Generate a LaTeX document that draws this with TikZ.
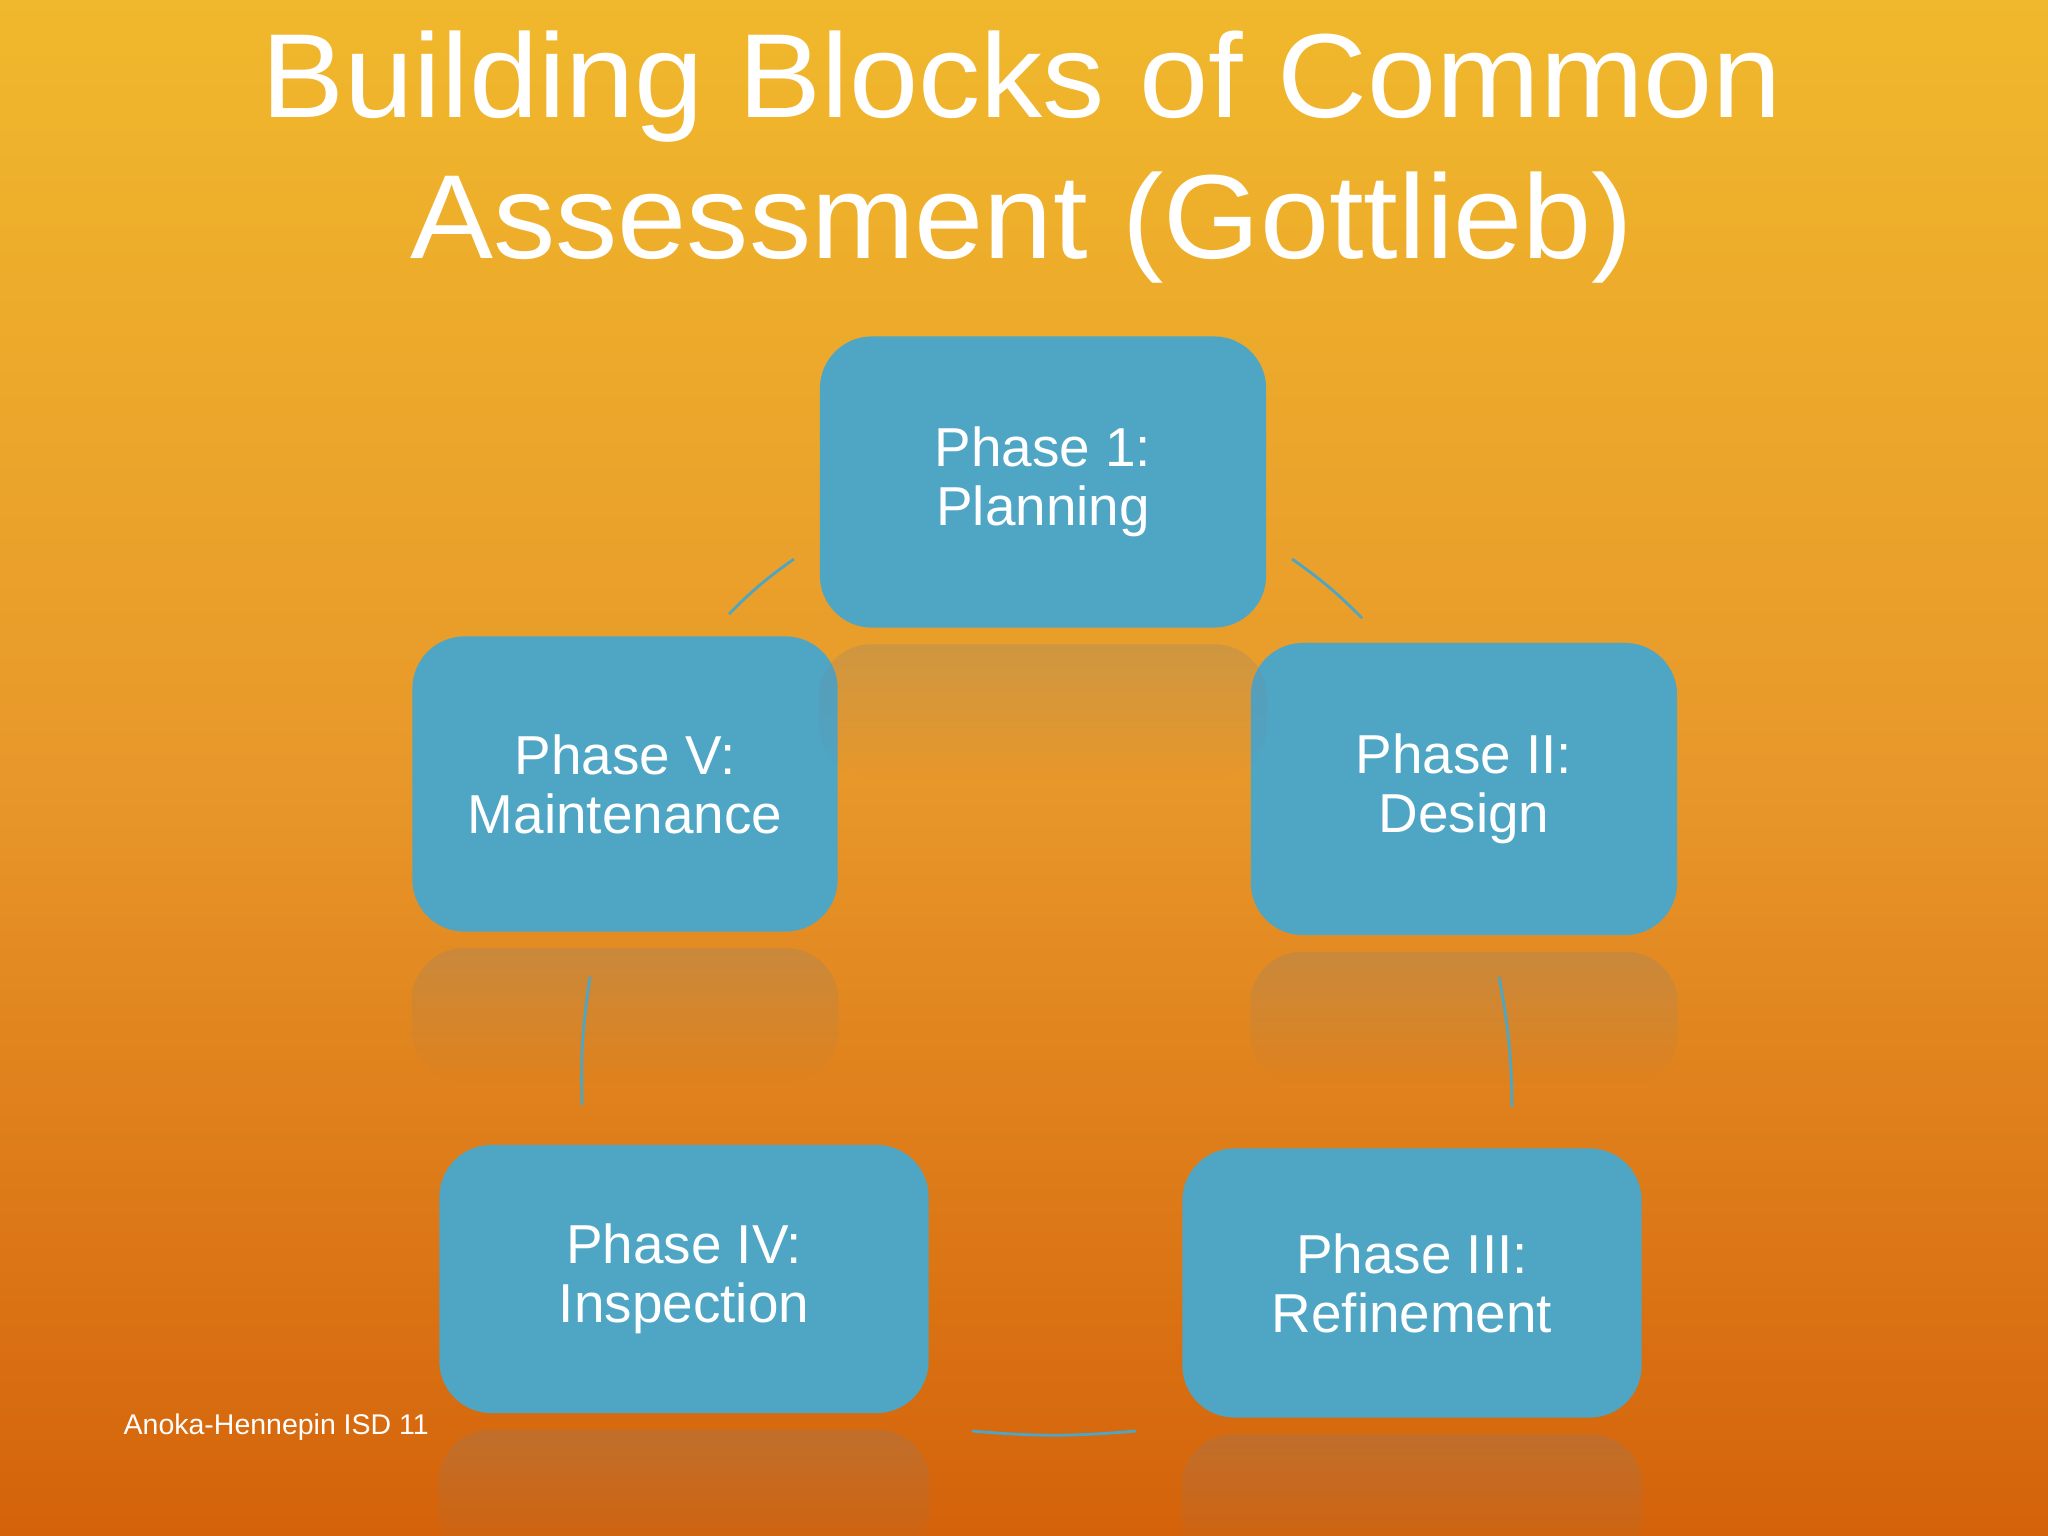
\documentclass[tikz,border=0pt]{standalone}
\usepackage{fontspec}
\setmainfont{Liberation Sans}
\newfontfamily\titlefont[FakeStretch=1.04]{Liberation Sans}
\usepackage{xcolor}
\usetikzlibrary{calc, fadings}

\definecolor{bgtop}{RGB}{240,184,44}
\definecolor{bgmid}{RGB}{232,152,42}
\definecolor{bgbot}{RGB}{212,98,10}
\definecolor{phaseblue}{RGB}{79,165,196}
\definecolor{mirror}{RGB}{120,130,140}

\begin{document}
\begin{tikzpicture}[x=0.01cm, y=-0.01cm,
    phasebox/.style={rectangle, rounded corners=0.52cm, fill=phaseblue, text=white,
        align=center, font=\fontsize{15.6}{16.8}\selectfont, inner sep=0pt},
    cyclearc/.style={draw=phaseblue, line width=0.8pt},
    reflectbox/.style={fill=mirror, fill opacity=0.24, rounded corners=0.52cm}]

    % background
    \useasboundingbox (0,0) rectangle (2048,1536);
    \shade[top color=bgtop, bottom color=bgbot, middle color=bgmid] (0,0) rectangle (2048,1536);

    % title
    \node[text=white, align=center, font=\titlefont\fontsize{34}{40}\selectfont, anchor=center] (title) at (1022,157) {
        Building Blocks of Common\\Assessment (Gottlieb)
    };

    % phases
    \node[phasebox, minimum width=4.46cm, minimum height=2.91cm] (plan) at (1043,482) {Phase 1:\\Planning};
    \node[phasebox, minimum width=4.26cm, minimum height=2.92cm] (design) at (1464,789) {Phase II:\\Design};
    \node[phasebox, minimum width=4.59cm, minimum height=2.69cm] (refine) at (1412,1283) {Phase III:\\Refinement};
    \node[phasebox, minimum width=4.89cm, minimum height=2.68cm] (insp) at (684,1279) {Phase IV:\\Inspection};
    \node[phasebox, minimum width=4.25cm, minimum height=2.95cm] (maint) at (625,784) {Phase V:\\Maintenance};

    % reflections
    \foreach \n in {plan, design, refine, insp, maint} {
        \fill[reflectbox, path fading=south] ($(\n.south west)+(0,16)$) rectangle ($(\n.south east)+(0,150)$);
    }

    % cycle arcs
    \coordinate (a1s) at (1292,559);
    \coordinate (a1e) at (1362,618);
    \coordinate (a2s) at (1499,977);
    \coordinate (a2e) at (1512,1107);
    \coordinate (a3s) at (1136,1431);
    \coordinate (a3e) at (972,1431);
    \coordinate (a4s) at (582,1105);
    \coordinate (a4e) at (590,977);
    \coordinate (a5s) at (729,614);
    \coordinate (a5e) at (794,559);
    \foreach \s/\e in {a1s/a1e, a2s/a2e, a3s/a3e, a4s/a4e, a5s/a5e} {
        \draw[cyclearc] (\s) to[bend left=5] (\e);
    }

    % footer
    \node[text=white, font=\fontsize{8.1}{9}\selectfont, anchor=base west, inner sep=0pt] (footer) at (123,1434) {Anoka-Hennepin ISD 11};
\end{tikzpicture}
\end{document}
